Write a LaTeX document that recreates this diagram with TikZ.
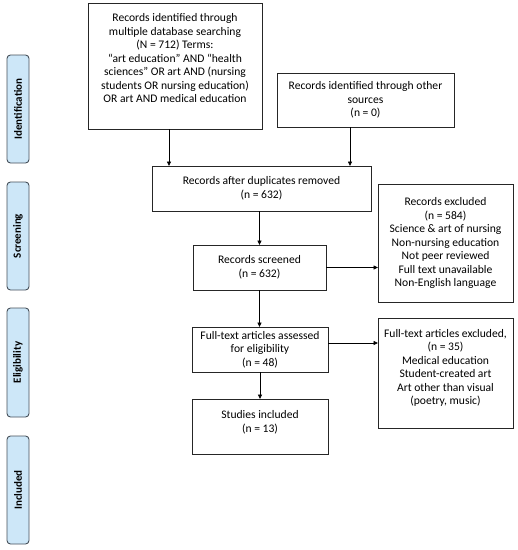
\documentclass[tikz,border=0pt]{standalone}
\usepackage{fontspec}
\setmainfont{Carlito}
\usetikzlibrary{arrows.meta}
\definecolor{sideblue}{RGB}{205,231,248}
\definecolor{sideedge}{RGB}{70,80,90}
\begin{document}
\begin{tikzpicture}[x=1pt,y=-1pt,
 box/.style={draw=black!85, line width=0.9pt, align=center, inner sep=1pt, outer sep=0pt, font=\fontsize{11.6}{13.5}\selectfont},
 side/.style={draw=sideedge, fill=sideblue, rounded corners=3.5pt, line width=0.9pt, inner sep=0pt, outer sep=0pt, rotate=90, font=\fontsize{11}{13}\selectfont\bfseries},
 arr/.style={-{Triangle[length=4.5pt,width=4pt]}, line width=0.8pt}]
\useasboundingbox (0,0) rectangle (518,550);
\fill[white] (0,0) rectangle (518,550);

\node[box, minimum width=174pt, minimum height=126pt] (b1) at (175,66)
 {Records identified through\\multiple database searching\\(N = 712) Terms:\\“art education” AND “health\\sciences” OR art AND (nursing\\students OR nursing education)\\OR art AND medical education\\[2pt]\mbox{}};
\node[box, minimum width=177pt, minimum height=54pt] (b2) at (365.5,100)
 {Records identified through other\\sources\\(n = 0)};
\node[box, minimum width=219pt, minimum height=45pt] (b3) at (261.5,188.5)
 {Records after duplicates removed\\(n = 632)};
\node[box, minimum width=133pt, minimum height=45pt] (b4) at (259.5,267.5)
 {Records screened\\(n = 632)};
\node[box, minimum width=135pt, minimum height=118pt] (b5) at (445.5,243)
 {Records excluded\\(n = 584)\\Science \& art of nursing\\Non-nursing education\\Not peer reviewed\\Full text unavailable\\Non-English language};
\node[box, minimum width=136pt, minimum height=45pt] (b6) at (260,349.5)
 {Full-text articles assessed\\for eligibility\\(n = 48)};
\node[box, minimum width=135pt, minimum height=110pt] (b7) at (445.5,373)
 {Full-text articles excluded,\\(n = 35)\\Medical education\\Student-created art\\Art other than visual\\(poetry, music)\\[-1pt]\mbox{}};
\node[box, minimum width=136pt, minimum height=55pt] (b8) at (260,426.5)
 {Studies included\\(n = 13)\\[-3pt]\mbox{}};

\node[side, minimum width=108pt, minimum height=22pt] (s1) at (18,109) {Identification};
\node[side, minimum width=108pt, minimum height=22pt] (s2) at (18,236) {Screening};
\node[side, minimum width=109pt, minimum height=22pt] (s3) at (18,362.5) {Eligibility};
\node[side, minimum width=108pt, minimum height=22pt] (s4) at (18,490) {Included};

\draw[arr] ([xshift=-6pt]b1.south) -- ([xshift=-6pt]b1.south |- b3.north);
\draw[arr] ([xshift=-15.5pt]b2.south) -- ([xshift=-15.5pt]b2.south |- b3.north);
\draw[arr] (b4.north |- b3.south) -- (b4.north);
\draw[arr] (b4.east) -- (b4.east -| b5.west);
\draw[arr] (b4.south) -- (b4.south |- b6.north);
\draw[arr] ([yshift=6.5pt]b6.east) -- ([yshift=6.5pt]b6.east -| b7.west);
\draw[arr] (b6.south) -- (b6.south |- b8.north);
\end{tikzpicture}
\end{document}
